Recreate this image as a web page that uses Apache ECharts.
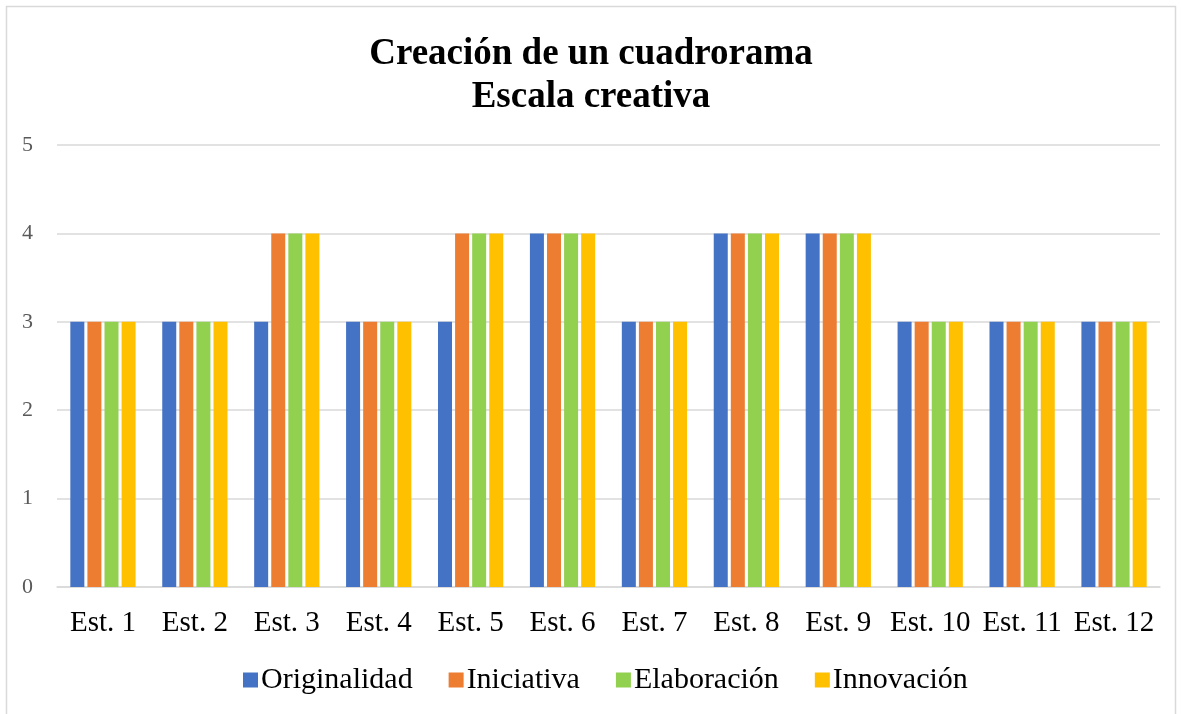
<!DOCTYPE html>
<html><head><meta charset="utf-8">
<script src="https://cdn.jsdelivr.net/npm/echarts@6/dist/echarts.min.js"></script>
<style>html,body{margin:0;padding:0;background:#fff;}#c{width:1182px;height:714px;}</style>
</head><body><div id="c"></div>
<script>
const categories = ['Est. 1','Est. 2','Est. 3','Est. 4','Est. 5','Est. 6','Est. 7','Est. 8','Est. 9','Est. 10','Est. 11','Est. 12'];
const originalidad = [3,3,3,3,3,4,3,4,4,3,3,3];
const iniciativa   = [3,3,4,3,4,4,3,4,4,3,3,3];
const elaboracion  = [3,3,4,3,4,4,3,4,4,3,3,3];
const innovacion   = [3,3,4,3,4,4,3,4,4,3,3,3];
const seriesNames = ['Originalidad','Iniciativa','Elaboración','Innovación'];
const colors = ['#4472C4','#ED7D31','#92D050','#FFC000'];
const font = '"Liberation Serif","Times New Roman",serif';
const chart = echarts.init(document.getElementById('c'));
const dataSets = [originalidad, iniciativa, elaboracion, innovacion];
chart.setOption({
  animation:false,
  textStyle:{fontFamily:font},
  graphic:[{type:'rect',shape:{x:6.5,y:6.5,width:1169,height:720},style:{fill:'none',stroke:'#d9d9d9',lineWidth:1.5},silent:true}],
  title:{text:'Creación de un cuadrorama\nEscala creativa',left:'center',top:28,
    textStyle:{fontFamily:font,fontSize:37,fontWeight:'bold',color:'#000',lineHeight:43}},
  legend:{bottom:14,left:238,itemWidth:15,itemHeight:15,itemGap:36,icon:'rect',
    textStyle:{fontFamily:font,fontSize:30,color:'#000',padding:[0,0,0,-2]},data:seriesNames},
  grid:{left:57,right:22,top:145,bottom:127,containLabel:false},
  xAxis:{type:'category',data:categories,axisTick:{show:false},
    axisLine:{lineStyle:{color:'#d9d9d9',width:1.5}},
    axisLabel:{fontFamily:font,fontSize:29,color:'#000',margin:22,interval:0}},
  yAxis:{type:'value',min:0,max:5,interval:1,
    axisLabel:{fontFamily:font,fontSize:22,color:'#595959',margin:24,align:'right'},
    splitLine:{lineStyle:{color:'#d9d9d9',width:1.5}},axisLine:{show:false}},
  series: seriesNames.map((n,i)=>({name:n,type:'bar',data:dataSets[i],
    itemStyle:{color:colors[i]},barGap:'22%',barCategoryGap:'29%'}))
});
</script></body></html>
